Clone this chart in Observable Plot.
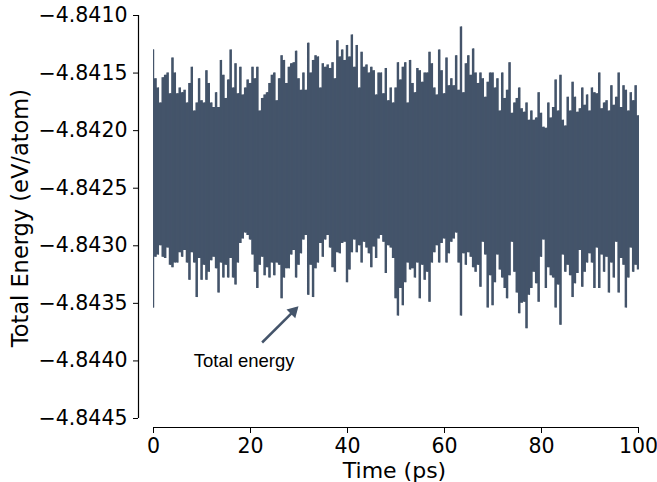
<!DOCTYPE html>
<html>
<head>
<meta charset="utf-8">
<script src="https://cdn.jsdelivr.net/npm/d3@7"></script>
<script src="https://cdn.jsdelivr.net/npm/@observablehq/plot@0.6"></script>
<style>
  html, body { margin: 0; padding: 0; background: #fff; }
  #chart { width: 657px; height: 482px; }
</style>
</head>
<body>
<div id="chart"></div>
<script>
// Time grid (ps), sampled every 0.5 ps
const times = d3.range(0, 100.001, 0.5);

// Upper envelope of the total energy trace (eV/atom)
const energyHigh = [
  -4.84130,-4.84155,-4.84163,-4.84176,-4.84154,-4.84152,-4.84150,-4.84168,-4.84137,-4.84150,
  -4.84168,-4.84163,-4.84167,-4.84165,-4.84176,-4.84159,-4.84145,-4.84183,-4.84176,-4.84155,
  -4.84174,-4.84176,-4.84148,-4.84159,-4.84176,-4.84180,-4.84167,-4.84180,-4.84139,-4.84152,
  -4.84172,-4.84156,-4.84130,-4.84163,-4.84142,-4.84168,-4.84145,-4.84169,-4.84163,-4.84156,
  -4.84159,-4.84145,-4.84155,-4.84145,-4.84183,-4.84172,-4.84169,-4.84167,-4.84159,-4.84152,
  -4.84150,-4.84174,-4.84155,-4.84135,-4.84139,-4.84159,-4.84145,-4.84142,-4.84141,-4.84131,
  -4.84155,-4.84165,-4.84150,-4.84165,-4.84124,-4.84150,-4.84139,-4.84135,-4.84136,-4.84163,
  -4.84142,-4.84145,-4.84143,-4.84146,-4.84141,-4.84155,-4.84122,-4.84136,-4.84130,-4.84139,
  -4.84126,-4.84136,-4.84117,-4.84145,-4.84126,-4.84163,-4.84132,-4.84145,-4.84143,-4.84150,
  -4.84145,-4.84148,-4.84169,-4.84150,-4.84150,-4.84168,-4.84146,-4.84174,-4.84163,-4.84176,
  -4.84163,-4.84141,-4.84156,-4.84145,-4.84141,-4.84176,-4.84139,-4.84159,-4.84167,-4.84146,
  -4.84148,-4.84158,-4.84150,-4.84150,-4.84132,-4.84142,-4.84163,-4.84169,-4.84130,-4.84148,
  -4.84168,-4.84137,-4.84161,-4.84155,-4.84161,-4.84135,-4.84165,-4.84110,-4.84167,-4.84142,
  -4.84135,-4.84152,-4.84129,-4.84150,-4.84159,-4.84150,-4.84155,-4.84171,-4.84158,-4.84150,
  -4.84150,-4.84163,-4.84155,-4.84183,-4.84150,-4.84172,-4.84165,-4.84141,-4.84185,-4.84176,
  -4.84172,-4.84163,-4.84181,-4.84184,-4.84176,-4.84191,-4.84183,-4.84191,-4.84189,-4.84167,
  -4.84185,-4.84197,-4.84198,-4.84176,-4.84189,-4.84180,-4.84156,-4.84183,-4.84152,-4.84191,
  -4.84196,-4.84171,-4.84183,-4.84158,-4.84171,-4.84184,-4.84181,-4.84163,-4.84178,-4.84169,
  -4.84183,-4.84163,-4.84167,-4.84168,-4.84150,-4.84181,-4.84176,-4.84174,-4.84183,-4.84161,
  -4.84178,-4.84171,-4.84150,-4.84180,-4.84161,-4.84165,-4.84183,-4.84167,-4.84174,-4.84161,
  -4.84187
];

// Lower envelope of the total energy trace (eV/atom)
const energyLow = [
  -4.84354,-4.84310,-4.84308,-4.84300,-4.84310,-4.84311,-4.84302,-4.84317,-4.84319,-4.84315,
  -4.84315,-4.84306,-4.84310,-4.84304,-4.84315,-4.84330,-4.84306,-4.84315,-4.84345,-4.84311,
  -4.84330,-4.84317,-4.84330,-4.84323,-4.84313,-4.84310,-4.84320,-4.84341,-4.84315,-4.84328,
  -4.84317,-4.84328,-4.84311,-4.84328,-4.84334,-4.84315,-4.84298,-4.84294,-4.84289,-4.84291,
  -4.84295,-4.84308,-4.84323,-4.84337,-4.84317,-4.84310,-4.84326,-4.84319,-4.84328,-4.84315,
  -4.84326,-4.84315,-4.84317,-4.84346,-4.84328,-4.84320,-4.84320,-4.84308,-4.84304,-4.84328,
  -4.84317,-4.84307,-4.84295,-4.84291,-4.84343,-4.84317,-4.84345,-4.84320,-4.84315,-4.84298,
  -4.84310,-4.84295,-4.84291,-4.84302,-4.84319,-4.84323,-4.84306,-4.84307,-4.84298,-4.84297,
  -4.84332,-4.84321,-4.84306,-4.84295,-4.84306,-4.84300,-4.84315,-4.84297,-4.84302,-4.84307,
  -4.84319,-4.84301,-4.84311,-4.84294,-4.84291,-4.84297,-4.84324,-4.84300,-4.84302,-4.84311,
  -4.84346,-4.84361,-4.84337,-4.84352,-4.84332,-4.84315,-4.84321,-4.84320,-4.84328,-4.84315,
  -4.84346,-4.84317,-4.84330,-4.84323,-4.84349,-4.84315,-4.84306,-4.84300,-4.84315,-4.84298,
  -4.84294,-4.84315,-4.84307,-4.84297,-4.84294,-4.84289,-4.84315,-4.84361,-4.84307,-4.84317,
  -4.84306,-4.84310,-4.84319,-4.84323,-4.84317,-4.84336,-4.84297,-4.84308,-4.84354,-4.84326,
  -4.84352,-4.84332,-4.84308,-4.84321,-4.84328,-4.84337,-4.84346,-4.84326,-4.84297,-4.84323,
  -4.84341,-4.84359,-4.84350,-4.84349,-4.84372,-4.84343,-4.84337,-4.84323,-4.84333,-4.84349,
  -4.84310,-4.84295,-4.84337,-4.84319,-4.84326,-4.84328,-4.84354,-4.84334,-4.84369,-4.84308,
  -4.84323,-4.84317,-4.84326,-4.84345,-4.84333,-4.84324,-4.84304,-4.84336,-4.84323,-4.84315,
  -4.84307,-4.84315,-4.84337,-4.84302,-4.84337,-4.84308,-4.84323,-4.84310,-4.84341,-4.84315,
  -4.84328,-4.84297,-4.84341,-4.84311,-4.84317,-4.84354,-4.84328,-4.84302,-4.84323,-4.84317,
  -4.84321
];

const xTicks = [0, 20, 40, 60, 80, 100];
const yTicks = [-4.8410, -4.8415, -4.8420, -4.8425, -4.8430, -4.8435, -4.8440, -4.8445];
const xLabel = "Time (ps)";
const yLabel = "Total Energy (eV/atom)";
const annotationLabel = "Total energy";

const series = times.map((t, i) => ({t, hi: energyHigh[i], lo: energyLow[i]}));
const color = "#44546a";
const fmt = d => d.toFixed(4).replace("-", "\u2212");

const chart = Plot.plot({
  width: 657,
  height: 482,
  marginLeft: 138,
  marginRight: 19,
  marginTop: 15,
  marginBottom: 55,
  style: {fontFamily: "DejaVu Sans", fontSize: "20px", color: "#000", background: "#fff", overflow: "visible"},
  x: {domain: [0, 100], insetLeft: 15, insetRight: 0},
  y: {domain: [-4.8445, -4.8410], insetBottom: 9},
  marks: [
    Plot.areaY(series, {x: "t", y1: "lo", y2: "hi", curve: "step", fill: color}),
    Plot.ruleX(series, {x: "t", y1: "lo", y2: "hi", stroke: color, strokeWidth: 1}),
    // spines
    Plot.ruleX([0], {y1: -4.8445, y2: -4.8410, dx: -15, stroke: "#000", strokeWidth: 1.2}),
    Plot.ruleY([-4.8445], {x1: 0, x2: 100, dy: 9, stroke: "#000", strokeWidth: 1.2}),
    Plot.axisY({ticks: yTicks, tickFormat: fmt, tickSize: 5, tickPadding: 6, label: null, fontSize: 20.5}),
    Plot.axisX({ticks: xTicks, tickFormat: d => String(d), tickSize: 6, tickPadding: 5, label: null, fontSize: 20.5}),
    Plot.text([yLabel], {x: -27.4, y: -4.84276, rotate: -90, fontSize: 22.5, fill: "#000"}),
    Plot.text([xLabel], {frameAnchor: "bottom", dx: 6, dy: 50.5, fontSize: 22, fill: "#000"}),
    // annotation
    Plot.text([annotationLabel], {x: 8.3, y: -4.8440, textAnchor: "start", fontFamily: "Liberation Sans", fontSize: 18.5, fill: "#000"}),
    Plot.link([0], {x1: 22.4, y1: -4.84384, x2: 28.85, y2: -4.84357, stroke: color, strokeWidth: 2.5}),
    Plot.dot([0], {x: 28.85, y: -4.84357, symbol: "triangle", rotate: 45, r: 4.6, fill: color, stroke: "none"})
  ]
});
document.getElementById("chart").appendChild(chart);
</script>
</body>
</html>
